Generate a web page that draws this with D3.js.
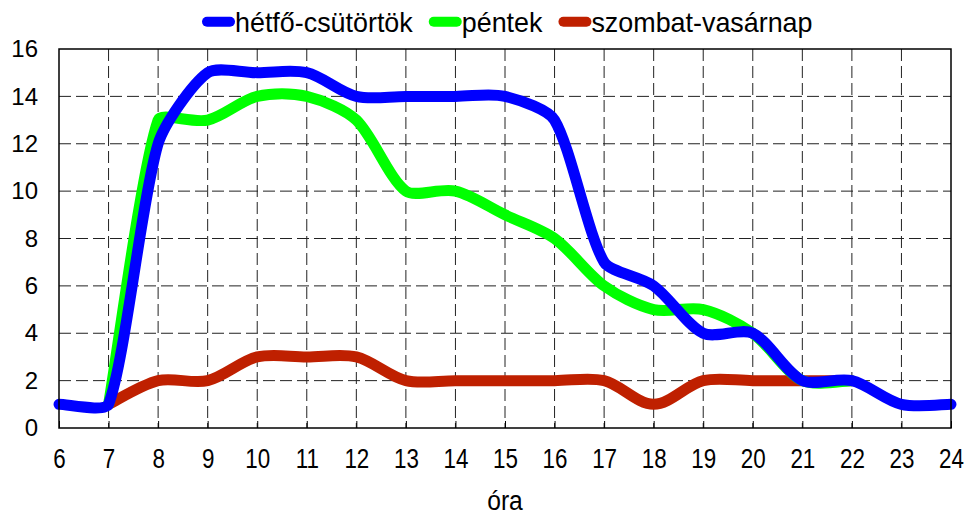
<!DOCTYPE html>
<html>
<head>
<meta charset="utf-8">
<script src="https://cdn.jsdelivr.net/npm/d3@7"></script>
<style>
  body { margin: 0; background: #fff; }
  text { font-family: "Liberation Sans", Arial, sans-serif; fill: #000; }
</style>
</head>
<body>
<svg></svg>
<script>
var viewWidth = 968;
var viewHeight = 515;

var margin = {top: 49, right: 17, bottom: 87, left: 59};
var width = viewWidth - margin.left - margin.right;
var height = viewHeight - margin.top - margin.bottom;

// hourly values
var hoursWeekday = [6, 7, 8, 9, 10, 11, 12, 13, 14, 15, 16, 17, 18, 19, 20, 21, 22, 23, 24];
var weekday = [1, 1, 12, 15, 15, 15, 14, 14, 14, 14, 13, 7, 6, 4, 4, 2, 2, 1, 1];
var hoursFriday = [7, 8, 9, 10, 11, 12, 13, 14, 15, 16, 17, 18, 19, 20, 21, 22];
var friday = [1, 13, 13, 14, 14, 13, 10, 10, 9, 8, 6, 5, 5, 4, 2, 2];
var hoursWeekend = [7, 8, 9, 10, 11, 12, 13, 14, 15, 16, 17, 18, 19, 20, 21, 22];
var weekend = [1, 2, 2, 3, 3, 3, 2, 2, 2, 2, 2, 1, 2, 2, 2, 2];

var seriesNames = ["hétfő-csütörtök", "péntek", "szombat-vasárnap"];
var seriesColors = ["#0000ff", "#00ff00", "#bf2000"];
var xTicks = d3.range(6, 25, 1);
var yTicks = d3.range(0, 17, 2);

var svg = d3.select("svg")
    .attr("width", viewWidth)
    .attr("height", viewHeight)
    .append("g")
    .attr("transform", "translate(" + margin.left + "," + margin.top + ")");

// smoothed line: catmull-rom style bezier handles (1/6 of the neighbour chord),
// shortened on the side of a segment that is shorter than the other one
function smoothPath(pts) {
    var p = d3.path();
    p.moveTo(pts[0][0], pts[0][1]);
    function dist(a, b) { return Math.hypot(b[0] - a[0], b[1] - a[1]); }
    var n = pts.length;
    for (var i = 0; i < n - 1; i++) {
        var pa = pts[Math.max(i - 1, 0)], p1 = pts[i], p2 = pts[i + 1], pb = pts[Math.min(i + 2, n - 1)];
        var d12 = dist(p1, p2);
        var dPrev = i > 0 ? dist(pa, p1) : d12;
        var dNext = i + 2 < n ? dist(p2, pb) : d12;
        var f1 = Math.min(1, d12 / dPrev) / 6;
        var f2 = Math.min(1, d12 / dNext) / 6;
        var t1 = dist(pa, p2), t2 = dist(p1, pb);
        if (t1 * f1 > d12 / 2) f1 = d12 / (2 * t1);
        if (t2 * f2 > d12 / 2) f2 = d12 / (2 * t2);
        p.bezierCurveTo(
            p1[0] + f1 * (p2[0] - pa[0]), p1[1] + f1 * (p2[1] - pa[1]),
            p2[0] - f2 * (pb[0] - p1[0]), p2[1] - f2 * (pb[1] - p1[1]),
            p2[0], p2[1]);
    }
    return p.toString();
}

function drawChart() {
    var x = d3.scaleLinear().domain([6, 24]).range([0, width]);
    var y = d3.scaleLinear().domain([0, 16]).range([height, 0]);

    // grid
    svg.append("g")
        .selectAll("line")
        .data(yTicks.slice(1, -1))
        .enter()
        .append("line")
          .attr("x1", 0).attr("x2", width)
          .attr("y1", function(d) { return y(d); })
          .attr("y2", function(d) { return y(d); })
          .attr("stroke", "#222")
          .attr("stroke-dasharray", "12,5");

    svg.append("g")
        .selectAll("line")
        .data(xTicks.slice(1, -1))
        .enter()
        .append("line")
          .attr("y1", 0).attr("y2", height)
          .attr("x1", function(d) { return x(d); })
          .attr("x2", function(d) { return x(d); })
          .attr("stroke", "#222")
          .attr("stroke-dasharray", "12,5");

    // axes
    var xAxis = svg.append("g")
        .attr("transform", "translate(0," + height + ")")
        .call(d3.axisBottom(x).tickValues(xTicks).tickFormat(d3.format("d")).tickSize(-7));
    xAxis.select(".domain").remove();
    xAxis.selectAll(".tick text")
        .attr("y", 40)
        .attr("dy", 0)
        .attr("transform", "scale(0.8,1)")
        .style("font-size", "28px");

    var yAxis = svg.append("g")
        .call(d3.axisLeft(y).tickValues(yTicks).tickSize(0).tickPadding(21));
    yAxis.select(".domain").remove();
    yAxis.selectAll(".tick text")
        .style("font-size", "24px");

    svg.selectAll(".tick text")
        .style("font-family", "'Liberation Sans', Arial, sans-serif")
        .attr("fill", "#000");
    svg.selectAll(".tick line").attr("stroke", "#000");

    svg.append("text")
        .attr("transform", "translate(" + (width / 2) + "," + (height + 82) + ") scale(0.88,1)")
        .style("text-anchor", "middle")
        .style("font-size", "28px")
        .text("óra");

    var series = [
        d3.zip(hoursWeekday, weekday),
        d3.zip(hoursFriday, friday),
        d3.zip(hoursWeekend, weekend)
    ];

    // weekend first, weekday on top
    [2, 1, 0].forEach(function(i) {
        var pts = series[i].map(function(d) { return [x(d[0]), y(d[1])]; });
        svg.append("path")
            .attr("fill", "none")
            .attr("stroke", seriesColors[i])
            .attr("stroke-width", 11)
            .attr("stroke-linecap", "round")
            .attr("stroke-linejoin", "round")
            .attr("d", smoothPath(pts));
    });

    // plot border
    svg.append("rect")
        .attr("width", width)
        .attr("height", height)
        .attr("fill", "none")
        .attr("stroke", "#000")
        .attr("stroke-width", 1.5);

    // legend
    var legend = d3.select("svg").append("g");
    var lx = 202;
    seriesNames.forEach(function(name, i) {
        legend.append("line")
            .attr("x1", lx + 5).attr("x2", lx + 28)
            .attr("y1", 21.7).attr("y2", 21.7)
            .attr("stroke", seriesColors[i])
            .attr("stroke-width", 10)
            .attr("stroke-linecap", "round");
        var t = legend.append("text")
            .attr("transform", "translate(" + (lx + 33) + ",31.5) scale(0.96,1)")
            .style("font-size", "28px")
            .text(name);
        lx = lx + 33 + t.node().getComputedTextLength() * 0.96 + 16;
    });
}

drawChart();
</script>
</body>
</html>
